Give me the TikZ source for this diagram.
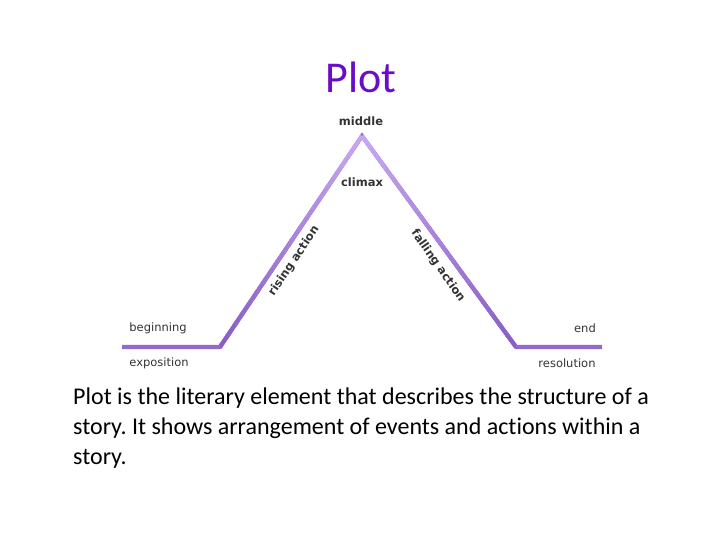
\documentclass[tikz,border=0pt]{standalone}
\usepackage{fontspec}
\setmainfont[Ligatures=NoCommon]{Carlito}
\newfontfamily\labelfont{DejaVu Sans}
\usetikzlibrary{calc, positioning}

\definecolor{titlepurple}{HTML}{6A0DC8}
\definecolor{linedark}{HTML}{8A5EC6}
\definecolor{linelight}{HTML}{C9AAF2}
\definecolor{labelgray}{HTML}{333333}

\begin{document}
\frenchspacing
\begin{tikzpicture}[
    x=1pt, y=-1pt,
    % Stili
    lbl/.style={font=\labelfont\fontsize{11.5}{13}\selectfont, text=labelgray, inner sep=0pt},
    lblbold/.style={font=\labelfont\bfseries\fontsize{11.5}{13}\selectfont, text=labelgray, inner sep=0pt},
    plotline/.style={line width=4.2pt, line join=miter, line cap=butt}
]
    \useasboundingbox (0,0) rectangle (720,540);

    % ==================== TITOLO ====================
    \node [text=titlepurple, font=\fontsize{44}{48}\selectfont, inner sep=0pt] (title) at (361,77) {Plot};

    % ==================== PUNTI DELLA TRAMA ====================
    \coordinate (start) at (122,347);
    \coordinate (riseA) at (220,347);
    \coordinate (apex)  at (362,136);
    \coordinate (fallB) at (516,347);
    \coordinate (stop)  at (602,347);

    % Linea di base
    \draw [plotline, color=linedark!80!linelight] (start) -- (riseA) -- (apex) -- (fallB) -- (stop);

    % Sfumatura delle salite
    \foreach \i in {0,...,19} {
        \pgfmathsetmacro{\p}{100-5*\i}
        \draw [plotline, color=linedark!\p!linelight] ($(riseA)!\i/20!(apex)$) -- ($(riseA)!{min(1,(\i+1.3)/20)}!(apex)$);
        \draw [plotline, color=linedark!\p!linelight] ($(fallB)!\i/20!(apex)$) -- ($(fallB)!{min(1,(\i+1.3)/20)}!(apex)$);
    }
    \draw [plotline, color=linedark!85!linelight] (start) -- (riseA);
    \draw [plotline, color=linedark!85!linelight] (fallB) -- (stop);

    % ==================== ETICHETTE ====================
    \node [lblbold] (middle) at (361,121) {middle};
    \node [lblbold] (climax) at (362,182) {climax};
    \node [lblbold, rotate=56] (rising) at (294,261) {rising action};
    \node [lblbold, rotate=-55] (falling) at (438,266) {falling action};
    \node [lbl] (beginning) at (158,328) {beginning};
    \node [lbl] (exposition) at (159,363) {exposition};
    \node [lbl] (end) at (585,328) {end};
    \node [lbl] (resolution) at (567,363) {resolution};

    % ==================== TESTO ====================
    \node [anchor=north west, align=left, inner sep=0pt, font=\fontsize{24}{30}\selectfont] (desc) at (73,388)
        {Plot is the literary element that describes the structure of a\\
         story. It shows arrangement of events and actions within a\\
         story.};
\end{tikzpicture}
\end{document}
